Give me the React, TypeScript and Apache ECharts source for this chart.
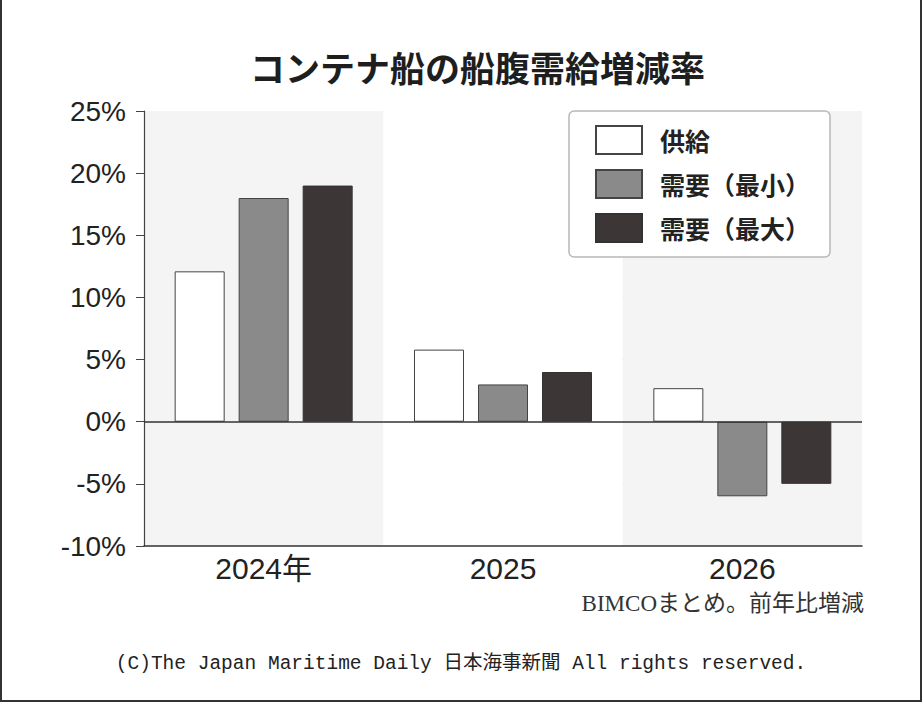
import React, { useEffect, useRef } from "react";
import * as echarts from "echarts";

const categories = ["2024年", "2025", "2026"];
const supply = [12.1, 5.8, 2.7];
const demandMin = [18, 3, -6];
const demandMax = [19, 4, -5];
const seriesNames = ["供給", "需要（最小）", "需要（最大）"];
const yTicks = { min: -10, max: 25, interval: 5 };

const titleText = "コンテナ船の船腹需給増減率";
const noteText = "BIMCOまとめ。前年比増減";
const footerText = "(C)The Japan Maritime Daily 日本海事新聞 All rights reserved.";

const sans = "'Liberation Sans', 'Noto Sans CJK JP', sans-serif";
const cjk = "'Noto Sans CJK JP', sans-serif";

export default function App() {
  const ref = useRef<HTMLDivElement>(null);
  useEffect(() => {
    document.body.style.margin = "0";
    const chart = echarts.init(ref.current!, undefined, { renderer: "svg" });
    const barBase = {
      type: "bar" as const,
      barWidth: 50,
      barGap: "28%",
    };
    chart.setOption({
      animation: false,
      backgroundColor: "#ffffff",
      title: {
        text: titleText,
        left: 245,
        top: 44,
        textStyle: { fontFamily: cjk, fontSize: 35, fontWeight: "bold", color: "#1e1e1e" },
      },
      legend: {
        orient: "vertical",
        left: 569,
        top: 111,
        padding: [14, 20, 14, 26],
        icon: "rect",
        itemWidth: 46,
        itemHeight: 28,
        itemGap: 14,
        backgroundColor: "#ffffff",
        borderColor: "#b8b8b8",
        borderWidth: 1.5,
        borderRadius: 5,
        data: seriesNames,
        textStyle: {
          fontFamily: cjk,
          fontSize: 25,
          fontWeight: "bold",
          color: "#222",
          padding: [0, 0, 0, 13],
        },
      },
      grid: { left: 144, right: 60, top: 111, bottom: 156 },
      xAxis: {
        type: "category",
        data: categories,
        axisLine: { onZero: false, lineStyle: { color: "#333", width: 1.5 } },
        axisTick: { show: false },
        axisLabel: { fontFamily: sans, fontSize: 30, color: "#222", margin: 7 },
        splitArea: { show: true, areaStyle: { color: ["#f4f4f4", "#ffffff"] } },
      },
      yAxis: {
        type: "value",
        min: yTicks.min,
        max: yTicks.max,
        interval: yTicks.interval,
        axisLine: { show: true, lineStyle: { color: "#444", width: 1.2 } },
        axisTick: { show: true, length: 8, lineStyle: { color: "#444" } },
        axisLabel: {
          fontFamily: sans,
          fontSize: 28,
          color: "#222",
          margin: 18,
          formatter: (v: number) => `${v}%`,
        },
        splitLine: {
          show: true,
          lineStyle: {
            type: "dotted",
            width: 1.2,
            color: ["transparent", "#aaaaaa", "#aaaaaa", "#aaaaaa", "#aaaaaa", "#aaaaaa", "#aaaaaa", "transparent"],
          },
        },
      },
      series: [
        {
          ...barBase,
          name: seriesNames[0],
          data: supply,
          itemStyle: { color: "#ffffff", borderColor: "#444", borderWidth: 1 },
          markLine: {
            silent: true,
            symbol: "none",
            label: { show: false },
            lineStyle: { color: "#333", width: 1.5, type: "solid" },
            data: [{ yAxis: 0 }],
          },
        },
        {
          ...barBase,
          name: seriesNames[1],
          data: demandMin,
          itemStyle: { color: "#8a8a8a", borderColor: "#444", borderWidth: 1 },
        },
        {
          ...barBase,
          name: seriesNames[2],
          data: demandMax,
          itemStyle: { color: "#3d3637", borderColor: "#333", borderWidth: 1 },
        },
      ],
      graphic: [
        {
          type: "text",
          right: 58,
          top: 592,
          style: {
            text: noteText,
            font: "23px 'Liberation Serif', 'Noto Sans CJK JP', serif",
            fill: "#333",
          },
        },
        {
          type: "text",
          left: "center",
          top: 654,
          style: {
            text: footerText,
            font: "19.5px 'Liberation Mono', 'Noto Sans CJK JP', monospace",
            fill: "#222",
          },
        },
        { type: "line", shape: { x1: 1, y1: 0, x2: 1, y2: 702 }, style: { stroke: "#333", lineWidth: 2 } },
        { type: "line", shape: { x1: 921, y1: 0, x2: 921, y2: 702 }, style: { stroke: "#333", lineWidth: 2 } },
        { type: "line", shape: { x1: 0, y1: 701, x2: 922, y2: 701 }, style: { stroke: "#333", lineWidth: 2 } },
      ],
    });
    return () => chart.dispose();
  }, []);
  return (
    <div
      ref={ref}
      style={{ position: "absolute", left: 0, top: 0, width: 922, height: 702 }}
    />
  );
}
